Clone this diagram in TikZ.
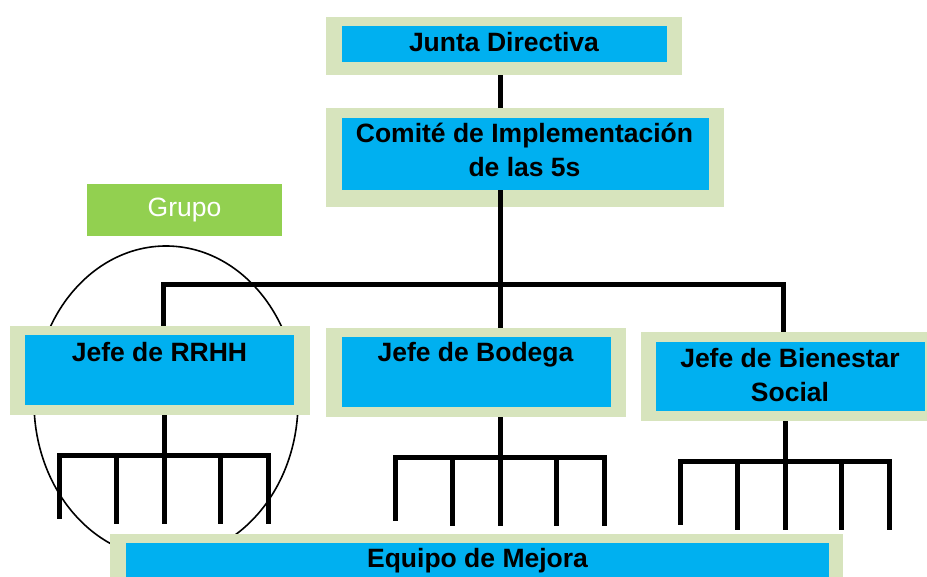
\documentclass[tikz,border=0pt]{standalone}
\usepackage{fontspec}
\setmainfont{Liberation Sans}
\definecolor{frame}{HTML}{D7E4BD}
\definecolor{cell}{HTML}{00B0F0}
\definecolor{tag}{HTML}{92D050}
\begin{document}
\begin{tikzpicture}[x=1pt, y=-1pt,
    framebox/.style={fill=frame, inner sep=0pt},
    cellbox/.style={fill=cell, inner sep=0pt},
    boxtext/.style={font=\bfseries\fontsize{26.5}{34}\selectfont, align=center, anchor=base},
    link/.style={line width=5pt}]
  \clip (0, 0) rectangle (927, 577);
  \draw [line width=1.6pt] (166, 402) ellipse [x radius=132, y radius=156];
  \node [fill=tag, text=white, minimum width=195pt, minimum height=52pt,
    font=\fontsize{26.5}{34}\selectfont] (grupo) at (184.5, 210) {Grupo};
  % boxes: frame, then cell
  \foreach \n/\x/\y/\w/\h/\cx/\cy/\cw/\ch in {
      junta/504/46/356/58/504.5/44/325/36,
      comite/525/157.5/398/99/525.5/154/367/72,
      rrhh/160/370.5/300/89/159.5/370/269/70,
      bodega/476/372.5/300/89/476.5/372/269/70,
      bien/791/376.5/300/89/790.5/376.5/269/69,
      equipo/476.5/579/733/90/477.5/578.5/703/71} {
    \node [framebox, minimum width=\w pt, minimum height=\h pt] (\n) at (\x, \y) {};
    \node [cellbox, minimum width=\cw pt, minimum height=\ch pt] (\n-in) at (\cx, \cy) {};
  }
  \node [boxtext] (junta-t) at (504, 52) {Junta Directiva};
  \node [boxtext] (comite-t) at (524.5, 177) {Comité de Implementación\\de las 5s};
  \node [boxtext] (rrhh-t) at (159.5, 362) {Jefe de RRHH};
  \node [boxtext] (bodega-t) at (475.5, 362) {Jefe de Bodega};
  \node [boxtext] (bien-t) at (790, 402) {Jefe de Bienestar\\Social};
  \node [boxtext] (equipo-t) at (477.5, 567) {Equipo de Mejora};
  % main tree
  \coordinate (trunk) at (500, 285);
  \coordinate (busL) at (163, 285);
  \coordinate (busR) at (783, 285);
  \draw [link] (junta.south -| trunk) -- (comite.north -| trunk);
  \draw [link] (comite-in.south -| trunk) -- (trunk) -- (bodega.north -| trunk);
  \draw [link] (rrhh.north -| busL) -- (busL) -- (busR) -- (bien.north -| busR);
  % teams under each head
  \foreach \n/\dx in {rrhh/4, bodega/24, bien/-6} {
    \draw [link] ([xshift=\dx pt]\n.south) -- ++(0, 40) coordinate (\n-hub);
    \draw [link, line cap=rect] ([xshift=-105pt]\n-hub) -- ([xshift=104pt]\n-hub);
    \foreach \o/\l in {-105/64, -48/69, 0/69, 56/69, 104/69}
      \draw [link] ([xshift=\o pt]\n-hub) -- ++(0, \l);
  }
\end{tikzpicture}
\end{document}
